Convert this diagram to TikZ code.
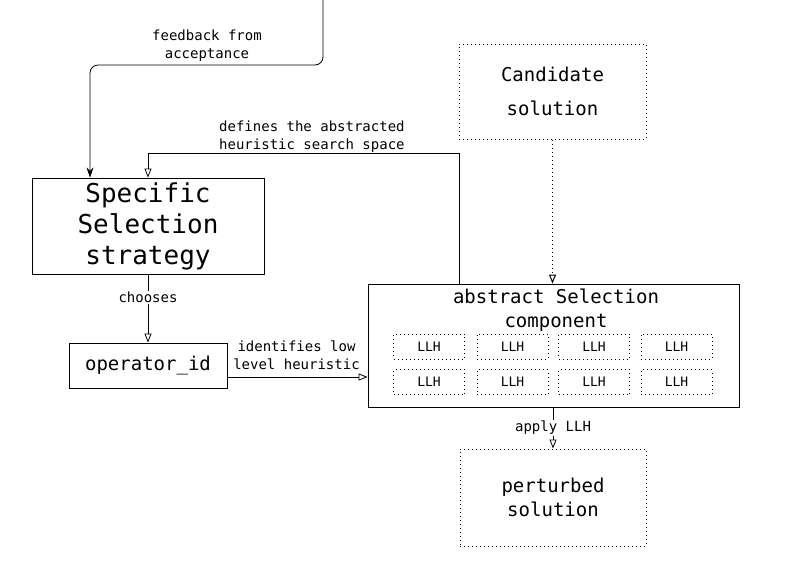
\documentclass[tikz,border=0pt]{standalone}
\usepackage{fontspec}
\setmainfont{DejaVu Sans Mono}
\usetikzlibrary{arrows.meta,calc}
\begin{document}
\begin{tikzpicture}[x=1pt,y=-1pt,
  sparsedots/.style={dash pattern=on 1pt off 3pt},
  solidbox/.style={draw,line width=0.9pt,inner sep=0pt,align=center},
  dotbox/.style={draw,sparsedots,line width=1pt,inner sep=0pt,align=center},
  llhbox/.style={draw,sparsedots,line width=1pt,inner sep=0pt,minimum width=71pt,minimum height=25pt,font=\fontsize{13}{15}\selectfont},
  lbl/.style={inner sep=0pt,align=center,font=\fontsize{14}{18}\selectfont},
  conn/.style={line width=0.8pt},
  opentip/.style={-{Triangle[open,length=9pt,width=7pt]}},
  filltip/.style={-{Stealth[length=10pt,width=7pt]}}]
\useasboundingbox (0,0) rectangle (798,563);
% boxes
\node[solidbox,minimum width=232pt,minimum height=96pt,font=\fontsize{26}{31}\selectfont] (spec) at (148,226) {Specific\\Selection\\strategy};
\node[solidbox,minimum width=158pt,minimum height=45pt,font=\fontsize{19}{23}\selectfont] (op) at (148,365.5) {operator\_id};
\node[solidbox,minimum width=371pt,minimum height=123pt] (abs) at (553.5,345.5) {};
\node[lbl,font=\fontsize{19}{24}\selectfont] (abstitle) at (556,310) {abstract Selection\\component};
\node[dotbox,minimum width=187pt,minimum height=95pt,font=\fontsize{19}{34}\selectfont] (cand) at (552.5,91.5) {Candidate\\solution};
\node[dotbox,minimum width=186pt,minimum height=97pt,font=\fontsize{19}{24}\selectfont] (pert) at (553,497.5) {perturbed\\solution};
% LLH boxes
\node[llhbox] (l11) at (429,346.5) {LLH};
\node[llhbox] (l12) at (512.5,346.5) {LLH};
\node[llhbox] (l13) at (594,346.5) {LLH};
\node[llhbox] (l14) at (676.5,346.5) {LLH};
\node[llhbox] (l21) at (429,382) {LLH};
\node[llhbox] (l22) at (512.5,382) {LLH};
\node[llhbox] (l23) at (594,382) {LLH};
\node[llhbox] (l24) at (676.5,382) {LLH};
% connectors
\coordinate (fbstart) at (323,0);
\coordinate (fbturn) at (90,65);
\draw[conn,filltip,rounded corners=8pt] (fbstart) |- (fbturn) -- (spec.north -| fbturn);
\node[lbl] (fblabel) at (207,46) {feedback from\\acceptance};

\coordinate (defstart) at ($(abs.north west)+(92,0)$);
\draw[conn,opentip] (defstart) |- ($(spec.north)+(0,-24)$) -- (spec.north);
\node[lbl,align=left,anchor=west] (deflabel) at (219,136.5) {defines the abstracted\\heuristic search space};

\draw[conn,opentip] (spec.south) -- (op.north) node[lbl,pos=0.34,fill=white,inner sep=1pt] (chlabel) {chooses};

\draw[conn,opentip] (op.east |- 0,377) -- (abs.west |- 0,377);
\node[lbl] (idlabel) at (296.5,355) {identifies low\\level heuristic};

\draw[conn,sparsedots,line width=1pt,opentip] (cand.south) -- (abs.north -| cand.south);

\draw[conn,opentip] (abs.south -| pert.north) -- (pert.north) node[lbl,midway,fill=white,inner sep=1pt] (aplabel) {apply LLH};
\end{tikzpicture}
\end{document}
